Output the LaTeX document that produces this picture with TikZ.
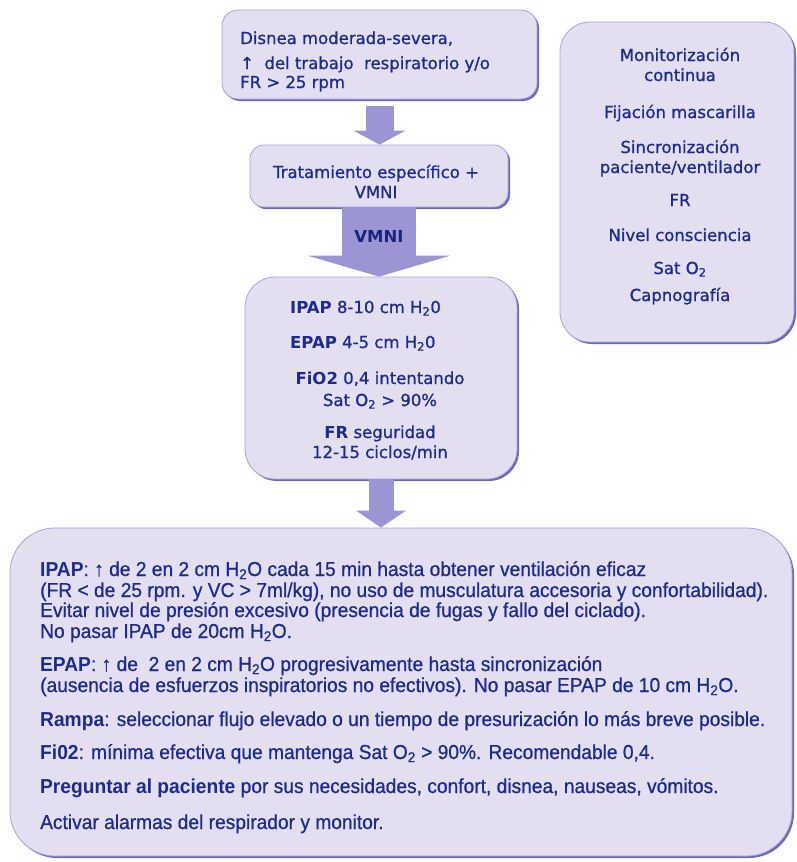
\documentclass[tikz,border=0pt]{standalone}
\usepackage{fontspec}
\setmainfont[UprightFeatures={FakeBold=1}]{DejaVu Sans}
\newfontfamily\narrowsans[FakeStretch=0.95,UprightFeatures={FakeBold=0.8}]{Liberation Sans}
\usetikzlibrary{arrows.meta,shadows}

\definecolor{cajafondo}{HTML}{E3DFF1}
\definecolor{cajaborde}{HTML}{A6A1D6}
\definecolor{cajasombra}{HTML}{6E68B8}
\definecolor{flechafondo}{HTML}{9B95D3}
\definecolor{texto}{HTML}{1D2B90}
\definecolor{textofuerte}{HTML}{1A2480}

\tikzset{
  caja/.style={draw=cajaborde, fill=cajafondo, line width=0.8pt, rounded corners=#1, inner sep=0pt,
    drop shadow={shadow xshift=2pt, shadow yshift=-2pt, fill=cajasombra, opacity=1}},
  flecha/.style n args={3}{draw=flechafondo, line width=#1,
    -{Triangle[width=#2 0 0, length=#3 0 0, line width=0pt 0 0]}},
  txt/.style={text=texto, inner sep=0pt, font=\fontsize{16.5}{20}\selectfont},
  txtbajo/.style={text=texto, inner sep=0pt, anchor=base west, font=\narrowsans\fontsize{20.2}{21}\selectfont}
}

\begin{document}
\begin{tikzpicture}[x=1pt,y=-1pt]
\useasboundingbox (0,0) rectangle (797,862);
% cajas
\node[caja=16pt, minimum width=315pt, minimum height=89pt] (disnea) at (379.5,54.5) {};
\node[caja=14pt, minimum width=258pt, minimum height=62pt] (tratam) at (379,176) {};
\node[caja=30pt, minimum width=272pt, minimum height=202pt] (parinic) at (381,378) {};
\node[caja=30pt, minimum width=234pt, minimum height=320pt] (monitor) at (677,182) {};
\node[caja=45pt, minimum width=782pt, minimum height=328pt] (ajustes) at (401,692) {};

% flechas
\draw[flecha={28pt}{52pt}{14pt}] ([yshift=-7pt]disnea.south) -- (disnea.south |- tratam.north);
\draw[flecha={74pt}{143pt}{21pt}] (tratam.south) -- node[pos=0.42, text=textofuerte, font=\bfseries\fontsize{16.5}{20}\selectfont] (vmnilbl) {VMNI} (tratam.south |- parinic.north);
\draw[flecha={25pt}{50pt}{17pt}] (parinic.south) -- (parinic.south |- ajustes.north);

% textos
\node[txt, anchor=base west] (dis1) at (240,44) {Disnea moderada-severa,};
\node[txt, anchor=base west] (dis2) at (240,69) {↑\ \ del trabajo\ \ respiratorio y/o};
\node[txt, anchor=base west] (dis3) at (240,88) {FR > 25 rpm};

\node[txt, anchor=base] (trat1) at (376,178) {Tratamiento específico +};
\node[txt, anchor=base] (trat2) at (376,198) {VMNI};

\node[txt, anchor=base west] (ipap) at (290,313) {\textbf{IPAP} 8-10 cm H\textsubscript{2}0};
\node[txt, anchor=base west] (epap) at (290,348) {\textbf{EPAP} 4-5 cm H\textsubscript{2}0};
\node[txt, anchor=base] (fio2) at (380,384) {\textbf{FiO2} 0,4 intentando};
\node[txt, anchor=base] (satini) at (380,406) {Sat O\textsubscript{2} > 90\%};
\node[txt, anchor=base] (frseg) at (380,438) {\textbf{FR} seguridad};
\node[txt, anchor=base] (ciclos) at (380,458) {12-15 ciclos/min};

\foreach \y/\t in {61/{Monitorización}, 81/{continua}, 118/{Fijación mascarilla},
    153/{Sincronización}, 173/{paciente/ventilador}, 206/{FR}, 241/{Nivel consciencia},
    274/{Sat O\textsubscript{2}}, 301/{Capnografía}}
  \node[txt, anchor=base] (mon-\y) at (680,\y) {\t};

\foreach \y/\t in {
    576/{\textbf{IPAP}: ↑ de 2 en 2 cm H\textsubscript{2}O cada 15 min hasta obtener ventilación eficaz},
    597/{(FR < de 25 rpm. y VC > 7ml/kg), no uso de musculatura accesoria y confortabilidad).},
    617/{Evitar nivel de presión excesivo (presencia de fugas y fallo del ciclado).},
    638/{No pasar IPAP de 20cm H\textsubscript{2}O.},
    671/{\textbf{EPAP}: ↑ de\ \ 2 en 2 cm H\textsubscript{2}O progresivamente hasta sincronización},
    692/{(ausencia de esfuerzos inspiratorios no efectivos). No pasar EPAP de 10 cm H\textsubscript{2}O.},
    726/{\textbf{Rampa}: seleccionar flujo elevado o un tiempo de presurización lo más breve posible.},
    759/{\textbf{Fi02}: mínima efectiva que mantenga Sat O\textsubscript{2} > 90\%. Recomendable 0,4.},
    793/{\textbf{Preguntar al paciente} por sus necesidades, confort, disnea, nauseas, vómitos.},
    829/{Activar alarmas del respirador y monitor.}}
  \node[txtbajo] (aj-\y) at (40,\y) {\t};
\end{tikzpicture}
\end{document}
